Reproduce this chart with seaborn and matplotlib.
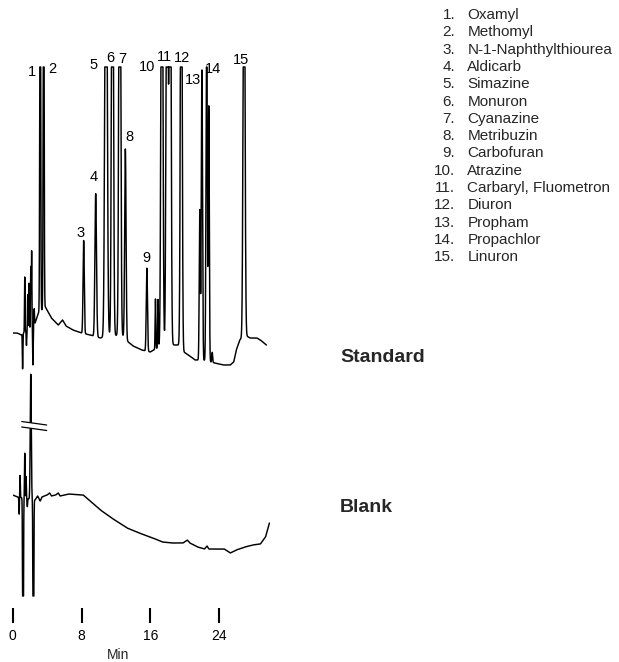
import numpy as np
import pandas as pd
import matplotlib
matplotlib.use("Agg")
import matplotlib.pyplot as plt
import seaborn as sns

# ---------------- data ----------------
# Standard chromatogram: baseline knots (min, signal)
std_base_t = [0, 0.5, 1.0, 2.6, 3.0, 3.8, 4.5, 5.3, 5.8, 6.2, 7.0, 8.0, 9.0, 10.2,
              11.5, 12.8, 13.3, 14.0, 15.0, 16.0, 17.0, 17.8, 18.8, 19.4, 19.9,
              20.6, 21.2, 22.0, 22.6, 23.5, 24.5, 25.3, 25.7, 26.0, 26.4, 27.0,
              27.6, 28.4, 28.8, 29.5]
std_base_v = [0, 0, -2, 10, 20, 26, 15, 8, 13, 7, 3, 0, -2, -5,
              -2, -3, -8, -13, -17, -19, -14, -10, -12, -12, -19,
              -23, -27, -27, -28, -30, -32, -32, -29, -17, -7, -2,
              -5, -5, -7, -12]
# Standard peaks: retention time (min), height, width (sigma, min)
std_peak_t = [3.2, 3.6, 8.25, 9.65, 10.85, 11.6, 12.45, 13.1, 15.6, 16.6, 16.9,
              17.35, 17.95, 18.3, 19.6, 21.75, 22.0, 22.55, 22.8, 23.2, 26.9]
std_peak_h = [450, 450, 93, 143, 600, 600, 600, 190, 83, 50, 48,
              600, 600, 600, 600, 150, 290, 350, 255, 10, 500]
std_peak_w = [0.05, 0.05, 0.07, 0.09, 0.12, 0.10, 0.10, 0.08, 0.07, 0.04, 0.04,
              0.10, 0.10, 0.10, 0.09, 0.06, 0.07, 0.07, 0.06, 0.05, 0.10]
# Solvent-front spikes in the standard
std_spike_t = [1.15, 1.4, 1.6, 1.75, 1.9, 2.1, 2.2, 2.35, 2.5]
std_spike_h = [-35, 55, -15, 35, 45, 60, 75, -40, 15]

# Blank chromatogram: baseline knots
blk_base_t = [0, 0.6, 2.6, 2.9, 3.2, 3.4, 4.0, 4.3, 4.5, 5.0, 5.3, 5.5, 6.5, 8.2,
              10.2, 11.5, 13.3, 14.7, 16.3, 17.4, 18.5, 19.8, 20.3, 20.6, 21.5,
              22.3, 22.6, 22.8, 24.6, 25.3, 26.0, 27.0, 27.9, 28.8, 29.4, 29.85]
blk_base_v = [0, -2, -5, -1, -6, -2, 0, 2, -1, 0, 2, -1, 1, 0,
              -15, -23, -33, -38, -43, -47, -48, -48, -45, -48, -52,
              -54, -51, -54, -54, -58, -55, -52, -50, -49, -42, -28]
blk_spike_t = [0.75, 0.85, 1.2, 1.4, 1.55, 1.7, 2.1, 2.4]
blk_spike_h = [-17, 22, -300, 45, 22, -8, 125, -300]
blk_spike_w = [0.03, 0.03, 0.04, 0.03, 0.03, 0.03, 0.06, 0.04]

peak_labels = [str(i) for i in range(1, 16)]
label_t = [2.28, 4.6, 7.94, 9.37, 9.45, 11.3, 12.8, 13.56, 15.5, 15.58, 17.6,
           19.65, 20.93, 23.26, 26.5]
label_y = [536, 539, 375, 431, 543, 550, 549, 471, 350, 541, 551, 550, 528, 539, 548]

compounds = ["Oxamyl", "Methomyl", "N-1-Naphthylthiourea", "Aldicarb", "Simazine",
             "Monuron", "Cyanazine", "Metribuzin", "Carbofuran", "Atrazine",
             "Carbaryl, Fluometron", "Diuron", "Propham", "Propachlor", "Linuron"]

x_ticks = [0, 8, 16, 24]

# ---------------- build traces ----------------
STD_OFFSET, BLK_OFFSET = 275, 113
STD_CLIP, BLK_CLIP = 266, -101

def trace(t, bt, bv, pt, ph, pw):
    y = np.interp(t, bt, bv)
    for c, h, w in zip(pt, ph, pw):
        y = y + h * np.exp(-0.5 * ((t - c) / w) ** 2)
    return y

t_std = np.arange(0, 29.5 + 1e-9, 0.004)
y_std = trace(t_std, std_base_t, std_base_v,
              std_peak_t + std_spike_t, std_peak_h + std_spike_h,
              std_peak_w + [0.03] * len(std_spike_t))
y_std = np.minimum(y_std, STD_CLIP) + STD_OFFSET

t_blk = np.arange(0, 29.85 + 1e-9, 0.004)
y_blk = trace(t_blk, blk_base_t, blk_base_v, blk_spike_t, blk_spike_h, blk_spike_w)
y_blk = np.maximum(y_blk, BLK_CLIP) + BLK_OFFSET

df = pd.concat([
    pd.DataFrame({"Min": t_std, "signal": y_std, "run": "Standard"}),
    pd.DataFrame({"Min": t_blk, "signal": y_blk, "run": "Blank"}),
])

# ---------------- plot ----------------
sns.set_style("white")
plt.rcParams["font.family"] = ["Liberation Sans", "DejaVu Sans"]

W, H = 619, 662
fig = plt.figure(figsize=(W / 100, H / 100), dpi=100)
ax = fig.add_axes([12.7 / W, (H - 608) / H, 258 / W, 568 / H])

for run in ["Standard", "Blank"]:
    sns.lineplot(data=df[df["run"] == run], x="Min", y="signal", estimator=None,
                 sort=False, color="black", linewidth=1.05, ax=ax, legend=False)

ax.set_xlim(0, 30)
ax.set_ylim(0, 568)
for s in ax.spines.values():
    s.set_visible(False)
ax.set_yticks([])
ax.set_ylabel("")
ax.set_xticks(x_ticks)
ax.set_xticklabels([str(v) for v in x_ticks], fontsize=10)
ax.tick_params(axis="x", direction="out", length=10.8, width=1.5, pad=4,
               color="black", labelcolor="black", bottom=True)
ax.set_xlabel("")
fig.text(118.3 / W, 1 - 655 / H, "Min", ha="center", va="center", fontsize=10)

# break symbol on the blank solvent spike
bx = [1.05, 3.95]
top_l, top_r = 186.5, 183.0
bot_l, bot_r = 181.0, 177.5
ax.fill([bx[0], bx[1], bx[1], bx[0]], [top_l, top_r, bot_r, bot_l],
        color="white", zorder=5, linewidth=0)
ax.plot(bx, [top_l, top_r], color="black", lw=0.9, zorder=6)
ax.plot(bx, [bot_l, bot_r], color="black", lw=0.9, zorder=6)

# peak numbers
for lab, lt, ly in zip(peak_labels, label_t, label_y):
    ax.text(lt, ly, lab, ha="center", va="center", fontsize=10.5, color="black")

# compound list
for i, name in enumerate(compounds):
    yy = 1 - (15 + i * 17.3) / H
    fig.text(455 / W, yy, f"{i + 1}.", ha="right", va="center", fontsize=11)
    fig.text(467.3 / W, yy, name, ha="left", va="center", fontsize=11)

fig.text(340 / W, 1 - 357 / H, "Standard", ha="left", va="center",
         fontsize=14, fontweight="bold")
fig.text(340 / W, 1 - 507 / H, "Blank", ha="left", va="center",
         fontsize=14, fontweight="bold")

fig.savefig("out.png", dpi=100)
